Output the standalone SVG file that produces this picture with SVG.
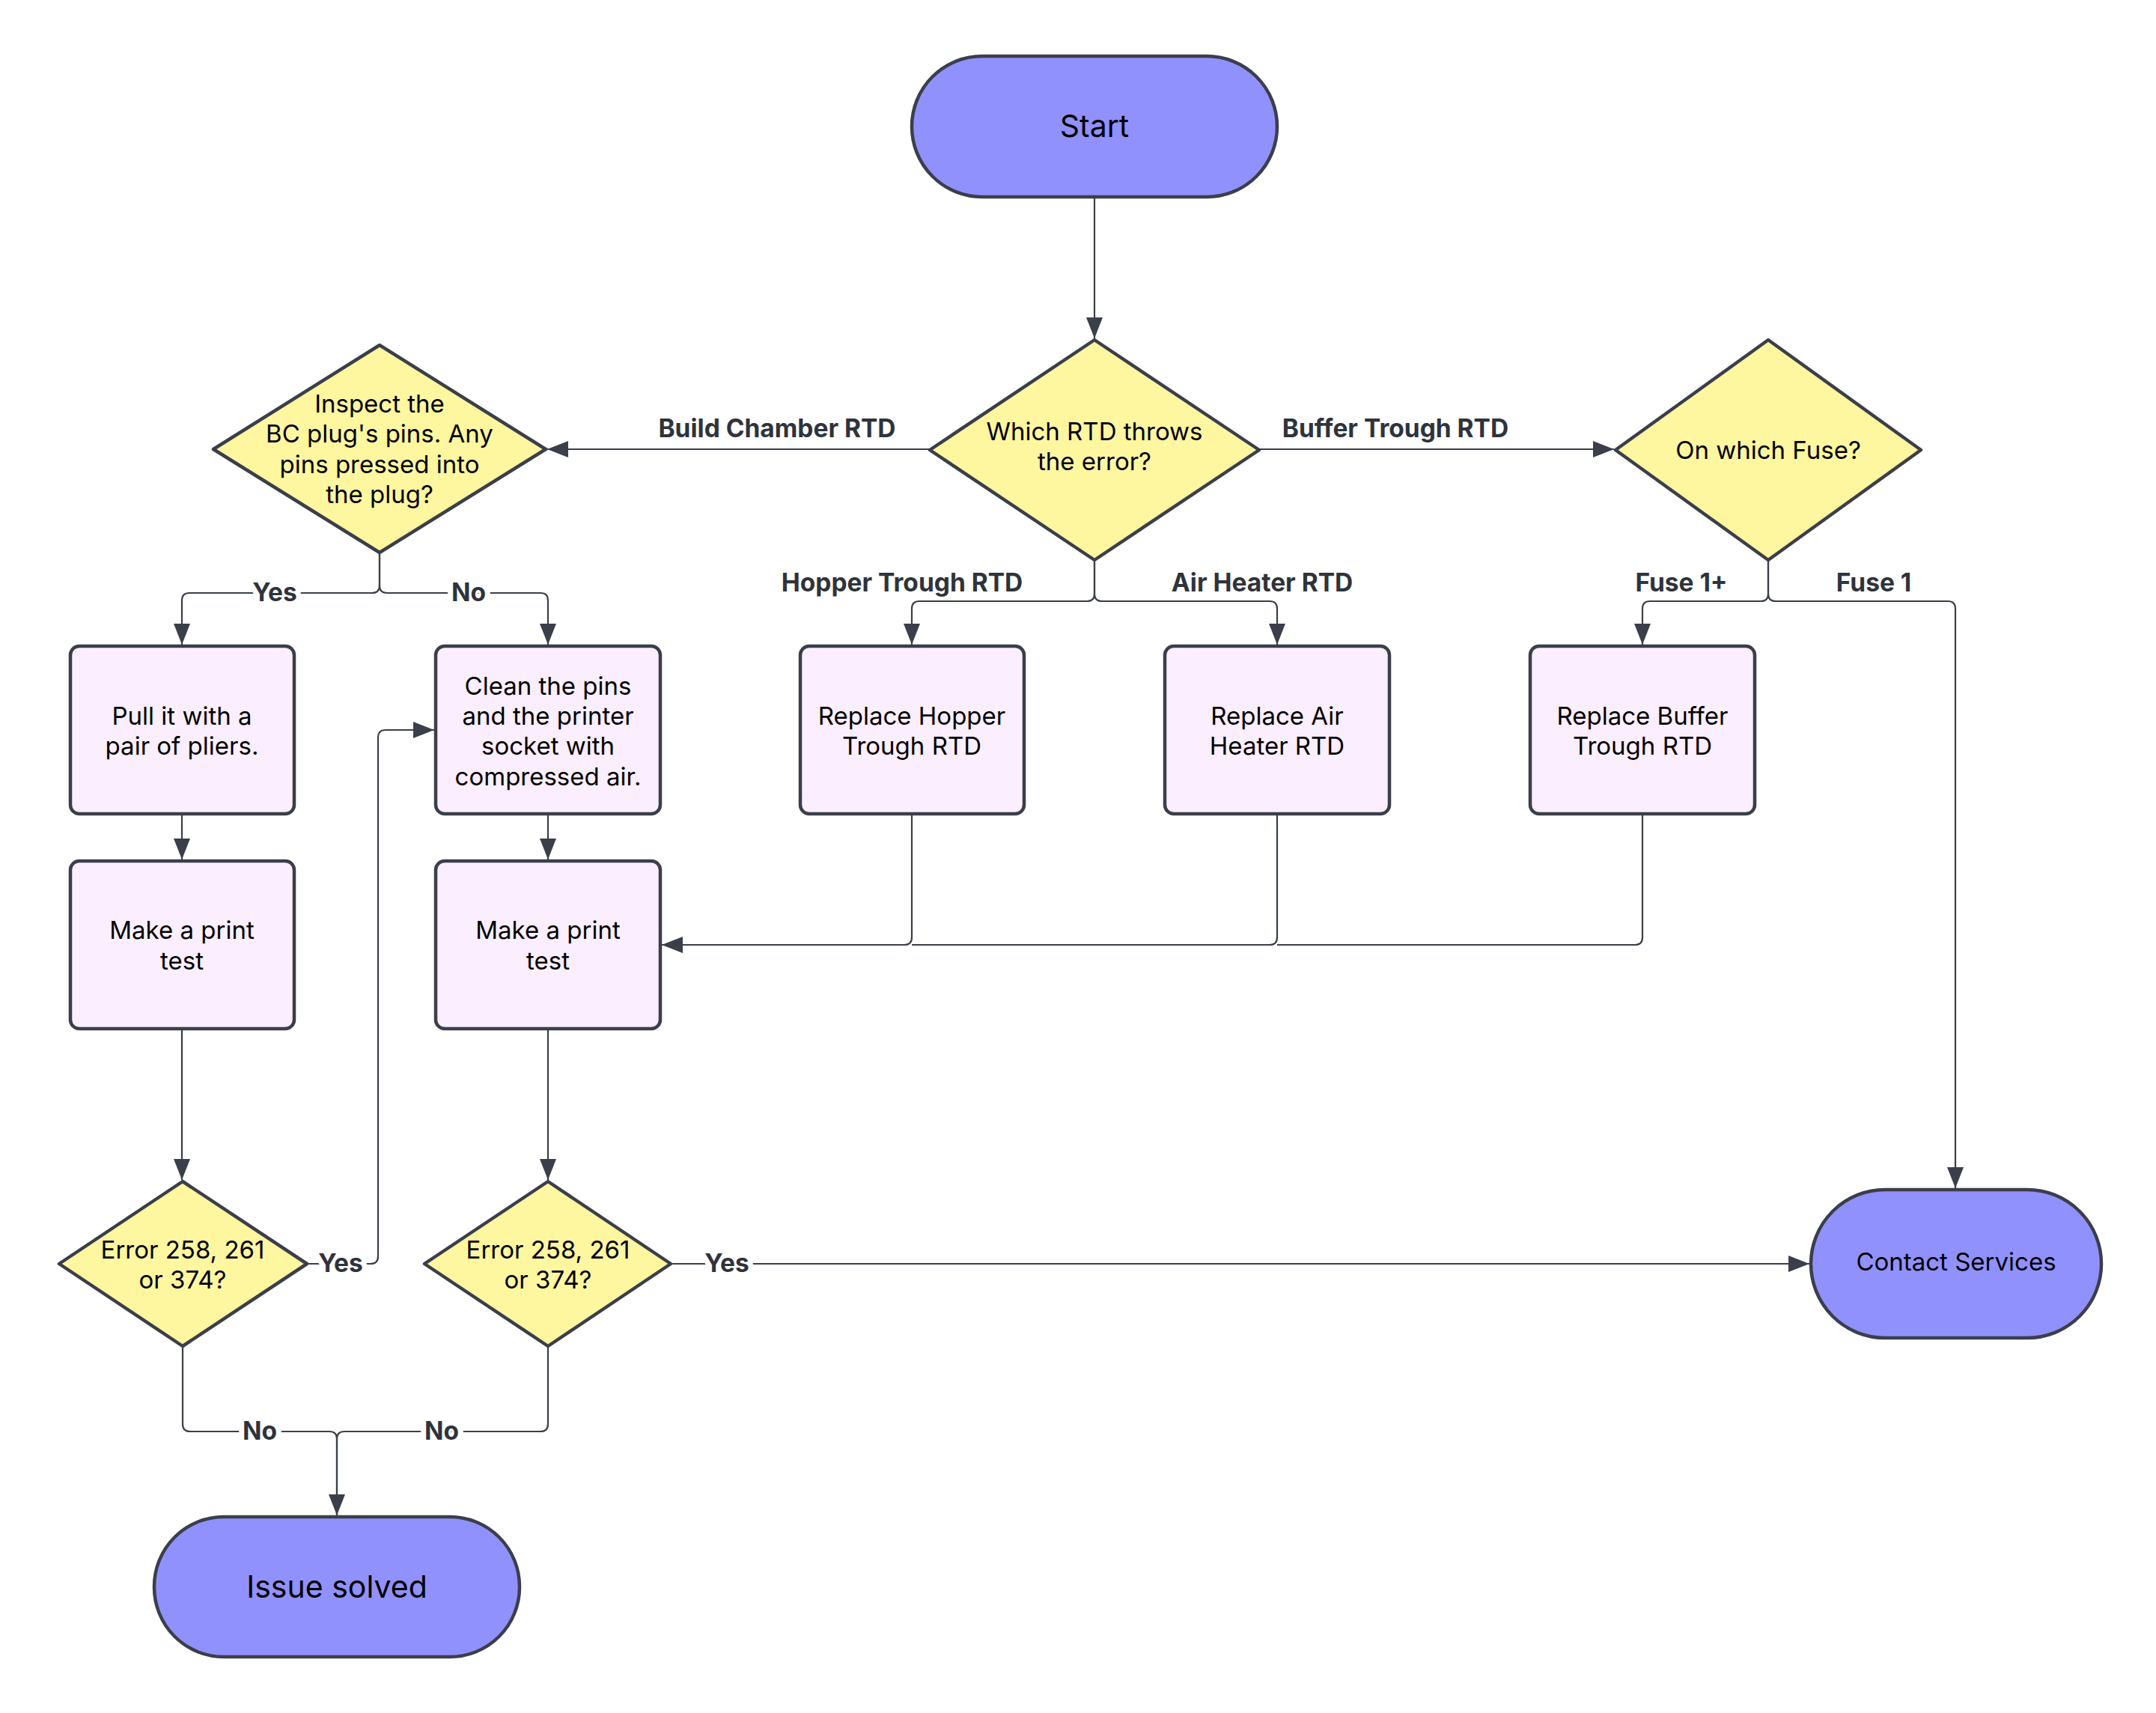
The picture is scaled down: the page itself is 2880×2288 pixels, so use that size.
<svg xmlns="http://www.w3.org/2000/svg" width="2880" height="2288" viewBox="0 0 2880 2288">
<defs>
<marker id="arr" markerUnits="userSpaceOnUse" markerWidth="28" markerHeight="22" refX="28" refY="11" orient="auto">
<path d="M0,0 L28,11 L0,22 z" fill="#3a3f4a"/>
</marker>
<style>
.term{fill:#9191fd;stroke:#3a3f4a;stroke-width:4.5}
.dec{fill:#fff6a0;stroke:#3a3f4a;stroke-width:4.5;stroke-linejoin:round}
.proc{fill:#fbeeff;stroke:#3a3f4a;stroke-width:4.5}
.t{font-family:Inter,"Noto Sans",sans-serif;font-size:33px;fill:#000;text-anchor:middle}
.tb{font-size:41px}
.lbl{font-family:Inter,"Noto Sans",sans-serif;font-size:33.5px;font-weight:bold;fill:#2f333b;text-anchor:middle}
.halo{paint-order:stroke;stroke:#fff;stroke-width:14px;stroke-linejoin:round}
.c{fill:none;stroke:#3a3f4a;stroke-width:2.2}
</style>
</defs>
<rect width="2880" height="2288" fill="#fff"/>

<g id="connectors">
<path class="c" d="M1462 263 V452" marker-end="url(#arr)"/>
<path class="c" d="M1242 600 H731" marker-end="url(#arr)"/>
<path class="c" d="M1682 600 H2156" marker-end="url(#arr)"/>
<path class="c" d="M1462 748 V793 Q1462 803 1452 803 H1228 Q1218 803 1218 813 V861" marker-end="url(#arr)"/>
<path class="c" d="M1462 748 V793 Q1462 803 1472 803 H1696 Q1706 803 1706 813 V861" marker-end="url(#arr)"/>
<path class="c" d="M2362 748 V793 Q2362 803 2352 803 H2204 Q2194 803 2194 813 V861" marker-end="url(#arr)"/>
<path class="c" d="M2362 748 V793 Q2362 803 2372 803 H2602 Q2612 803 2612 813 V1587" marker-end="url(#arr)"/>
<path class="c" d="M507 738 V782 Q507 792 497 792 H253 Q243 792 243 802 V861" marker-end="url(#arr)"/>
<path class="c" d="M507 738 V782 Q507 792 517 792 H722 Q732 792 732 802 V861" marker-end="url(#arr)"/>
<path class="c" d="M243 1087 V1148" marker-end="url(#arr)"/>
<path class="c" d="M732 1087 V1148" marker-end="url(#arr)"/>
<path class="c" d="M1218 1087 V1252 Q1218 1262 1208 1262 H884" marker-end="url(#arr)"/>
<path class="c" d="M1706 1087 V1252 Q1706 1262 1696 1262 H1218"/>
<path class="c" d="M2194 1087 V1252 Q2194 1262 2184 1262 H1706"/>
<path class="c" d="M243 1374 V1576" marker-end="url(#arr)"/>
<path class="c" d="M732 1374 V1576" marker-end="url(#arr)"/>
<path class="c" d="M410 1688 H495 Q505 1688 505 1678 V985 Q505 975 515 975 H580" marker-end="url(#arr)"/>
<path class="c" d="M896 1688 H2417" marker-end="url(#arr)"/>
<path class="c" d="M244 1798 V1902 Q244 1912 254 1912 H440 Q450 1912 450 1922 V2024" marker-end="url(#arr)"/>
<path class="c" d="M732 1798 V1902 Q732 1912 722 1912 H460 Q450 1912 450 1922 V2024"/>
<text class="lbl" x="1038" y="584">Build Chamber RTD</text>
<text class="lbl" x="1864" y="584">Buffer Trough RTD</text>
<text class="lbl" x="1205" y="790">Hopper Trough RTD</text>
<text class="lbl" x="1686" y="790">Air Heater RTD</text>
<text class="lbl" x="2246" y="790">Fuse 1+</text>
<text class="lbl" x="2503" y="790">Fuse 1</text>
<text class="lbl halo" x="367" y="803">Yes</text>
<text class="lbl halo" x="626" y="803">No</text>
<text class="lbl halo" x="455" y="1699">Yes</text>
<text class="lbl halo" x="971" y="1699">Yes</text>
<text class="lbl halo" x="347" y="1923">No</text>
<text class="lbl halo" x="590" y="1923">No</text>
</g>

<g id="start">
<rect class="term" x="1218" y="75" width="488" height="188" rx="94"/>
<text class="t tb" x="1462" y="183">Start</text>
</g>
<g id="which-rtd">
<polygon class="dec" points="1462,454 1682,601 1462,748 1242,601"/>
<text class="t" x="1462" y="588">Which RTD throws</text>
<text class="t" x="1462" y="628">the error?</text>
</g>
<g id="inspect">
<polygon class="dec" points="507,461 729,600 507,738 285,600"/>
<text class="t" x="507" y="551">Inspect the</text>
<text class="t" x="507" y="591">BC plug's pins. Any</text>
<text class="t" x="507" y="632">pins pressed into</text>
<text class="t" x="507" y="672">the plug?</text>
</g>
<g id="which-fuse">
<polygon class="dec" points="2362,454 2566,601 2362,748 2158,601"/>
<text class="t" x="2362" y="613">On which Fuse?</text>
</g>
<g id="pull">
<rect class="proc" x="94" y="863" width="299" height="224" rx="12"/>
<text class="t" x="243" y="968">Pull it with a</text>
<text class="t" x="243" y="1008">pair of pliers.</text>
</g>
<g id="clean">
<rect class="proc" x="582" y="863" width="300" height="224" rx="12"/>
<text class="t" x="732" y="928">Clean the pins</text>
<text class="t" x="732" y="968">and the printer</text>
<text class="t" x="732" y="1008">socket with</text>
<text class="t" x="732" y="1049">compressed air.</text>
</g>
<g id="hopper">
<rect class="proc" x="1069" y="863" width="299" height="224" rx="12"/>
<text class="t" x="1218" y="968">Replace Hopper</text>
<text class="t" x="1218" y="1008">Trough RTD</text>
</g>
<g id="airheater">
<rect class="proc" x="1556" y="863" width="300" height="224" rx="12"/>
<text class="t" x="1706" y="968">Replace Air</text>
<text class="t" x="1706" y="1008">Heater RTD</text>
</g>
<g id="buffer">
<rect class="proc" x="2044" y="863" width="300" height="224" rx="12"/>
<text class="t" x="2194" y="968">Replace Buffer</text>
<text class="t" x="2194" y="1008">Trough RTD</text>
</g>
<g id="test1">
<rect class="proc" x="94" y="1150" width="299" height="224" rx="12"/>
<text class="t" x="243" y="1254">Make a print</text>
<text class="t" x="243" y="1295">test</text>
</g>
<g id="test2">
<rect class="proc" x="582" y="1150" width="300" height="224" rx="12"/>
<text class="t" x="732" y="1254">Make a print</text>
<text class="t" x="732" y="1295">test</text>
</g>
<g id="error1">
<polygon class="dec" points="244,1578 410,1688 244,1798 79,1688"/>
<text class="t" x="244" y="1681">Error 258, 261</text>
<text class="t" x="244" y="1721">or 374?</text>
</g>
<g id="error2">
<polygon class="dec" points="732,1578 896,1688 732,1798 567,1688"/>
<text class="t" x="732" y="1681">Error 258, 261</text>
<text class="t" x="732" y="1721">or 374?</text>
</g>
<g id="issue-solved">
<rect class="term" x="206" y="2026" width="488" height="187" rx="93"/>
<text class="t tb" x="450" y="2134">Issue solved</text>
</g>
<g id="contact">
<rect class="term" x="2419" y="1589" width="388" height="198" rx="99"/>
<text class="t" x="2613" y="1697">Contact Services</text>
</g>
</svg>
